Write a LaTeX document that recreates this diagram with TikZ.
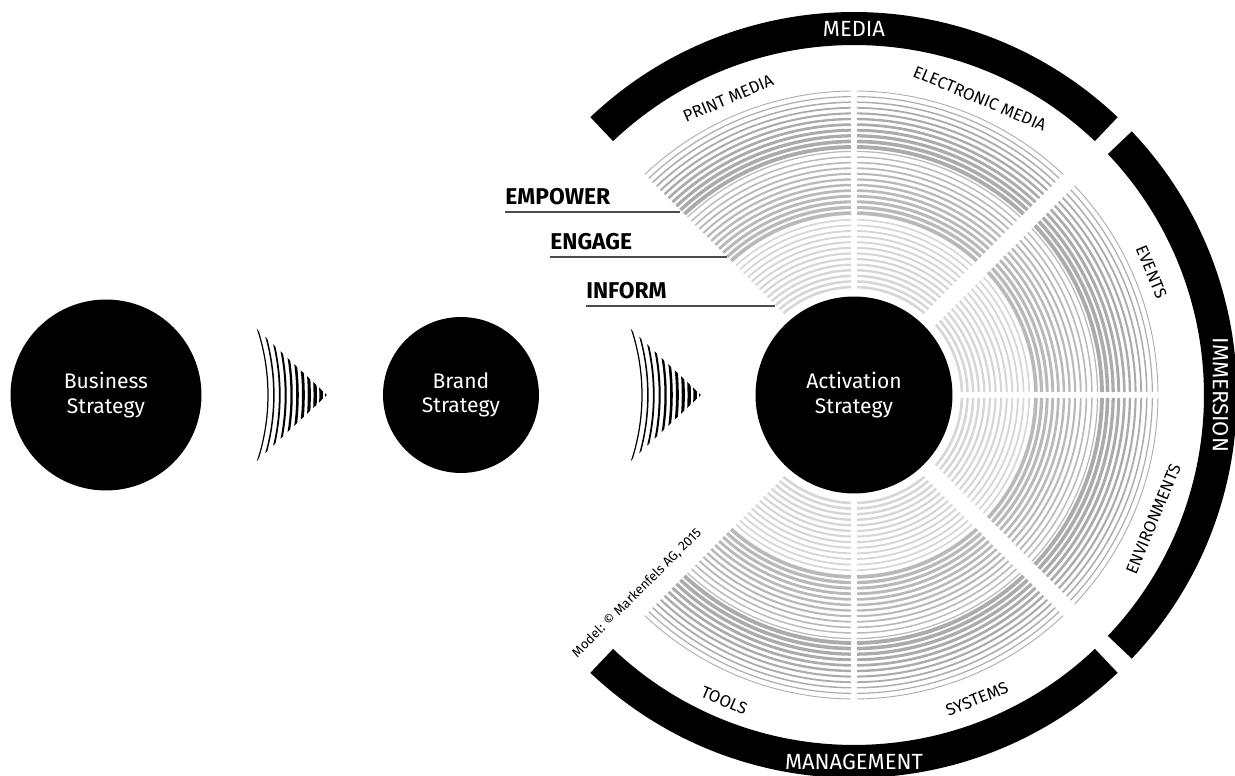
\documentclass[tikz,border=0pt]{standalone}
\usepackage{fontspec}
\setmainfont{Fira Sans}
\usetikzlibrary{positioning}

\tikzset{
  strat/.style={circle, fill=black, text=white, align=center, inner sep=0pt,
    font=\fontsize{12}{14}\selectfont},
  bandlabel/.style={text=white, inner sep=0pt, font=\fontsize{12.5}{14}\selectfont},
  seclabel/.style={inner sep=0pt, font=\fontsize{9.5}{11}\selectfont},
  levellabel/.style={anchor=south west, inner sep=0pt, font=\bfseries\fontsize{13}{15}\selectfont},
  levelline/.style={draw=black!70, line width=0.9pt},
}

\begin{document}
\begin{tikzpicture}[x=0.02cm, y=0.02cm]
    \useasboundingbox (-854,-381) rectangle (381,395);

    % the three strategies
    \node[strat, minimum size=3.82cm] (business) at (-748,0) {Business\\Strategy};
    \node[strat, minimum size=3.12cm] (brand) at (-393,0) {Brand\\Strategy};
    \node[strat, minimum size=3.94cm] (activation) at (0,0) {Activation\\Strategy};

    % striped arrows
    \foreach \cx in {-797,-423} {
        \begin{scope}
            \clip (\cx+187,78) -- (\cx+270,0) -- (\cx+187,-78) -- cycle;
            \foreach \k in {0,...,10}
                \draw[line width={(0.7+0.15*\k)*1pt}] (\cx,0) circle[radius=211+5.9*\k];
        \end{scope}
    }

    % rings of the six fields
    \foreach \a/\b/\ga/\gb in {90/135/3/8, 45/90/8/3, 0/45/3/8, -45/0/8/3, -90/-45/3/8, -135/-90/8/3} {
        \foreach \ra/\n/\col/\wa/\wb in {108/14/gray!32/1.5/0.9, 182/12/gray!55/2.0/0.7, 248/11/gray!66/2.2/0.5} {
            \foreach \k in {1,...,\n} {
                \pgfmathsetmacro{\r}{\ra+5.6*(\k-1)}
                \pgfmathsetmacro{\w}{\wa-(\wa-\wb)*(\k-1)/(\n-1)}
                \pgfmathsetmacro{\s}{\a+asin(\ga/\r)}
                \pgfmathsetmacro{\e}{\b-asin(\gb/\r)}
                \draw[\col, line width=\w pt] (\s:\r) arc[start angle=\s, end angle=\e, radius=\r];
            }
        }
    }

    % outer bands
    \foreach \a/\b in {46.5/133.5, -43.5/43.5, -133.5/-46.5}
        \fill (\a:350) arc[start angle=\a, end angle=\b, radius=350]
            -- (\b:383) arc[start angle=\b, end angle=\a, radius=383] -- cycle;
    \node[bandlabel] (media) at (90:366.5) {MEDIA};
    \node[bandlabel, rotate=-90] (immersion) at (0:366.5) {IMMERSION};
    \node[bandlabel] (management) at (-90:366.5) {MANAGEMENT};

    % field labels
    \node[seclabel, rotate=23] (print) at (113:322) {PRINT MEDIA};
    \node[seclabel, rotate=-23] (electronic) at (67:322) {ELECTRONIC MEDIA};
    \node[seclabel, rotate=-67.5] (events) at (22.5:322) {EVENTS};
    \node[seclabel, rotate=67.5] (environments) at (-22.5:324) {ENVIRONMENTS};
    \node[seclabel, rotate=22] (systems) at (-68:328) {SYSTEMS};
    \node[seclabel, rotate=-23] (tools) at (-113:332) {TOOLS};

    % levels
    \node[levellabel] (empower) at (-349,190) {EMPOWER};
    \node[levellabel] (engage) at (-304,145) {ENGAGE};
    \node[levellabel] (inform) at (-268,96) {INFORM};
    \coordinate (empowerend) at (-174,183);
    \coordinate (engageend) at (-127,138);
    \coordinate (informend) at (-79,89);
    \draw[levelline] (empower.south west |- empowerend) -- (empowerend);
    \draw[levelline] (engage.south west |- engageend) -- (engageend);
    \draw[levelline] (inform.south west |- informend) -- (informend);

    \node[rotate=45, inner sep=0pt, font=\fontsize{7.5}{9}\selectfont] (model) at (-217,-198) {Model: © Markenfels AG, 2015};
\end{tikzpicture}
\end{document}
